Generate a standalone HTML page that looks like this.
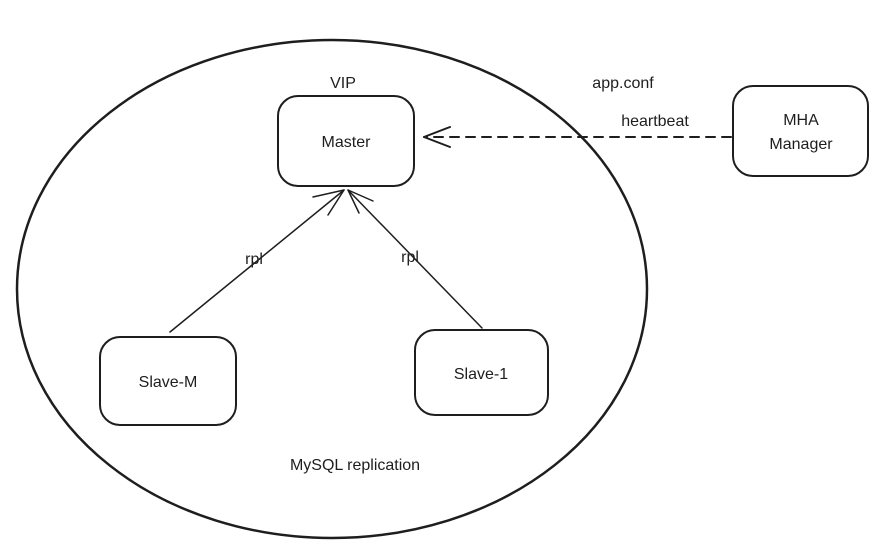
<!DOCTYPE html>
<html><head><meta charset="utf-8"><style>
body{margin:0;background:#fff;}
svg text{font-family:"Liberation Sans",sans-serif;fill:#1e1e1e;font-size:16px;text-anchor:middle;}
</style></head><body>
<svg width="887" height="554" viewBox="0 0 887 554" xmlns="http://www.w3.org/2000/svg">
<g fill="none" stroke="#1e1e1e" stroke-linecap="round" stroke-linejoin="round">
<ellipse cx="332" cy="289" rx="315" ry="249" stroke-width="2.5"/>
<rect x="278" y="96" width="136" height="90" rx="20" stroke-width="2"/>
<rect x="100" y="337" width="136" height="88" rx="20" stroke-width="2"/>
<rect x="415" y="330" width="133" height="85" rx="20" stroke-width="2"/>
<rect x="733" y="86" width="135" height="90" rx="20" stroke-width="2"/>
<line x1="170" y1="332" x2="344" y2="190" stroke-width="1.5"/>
<line x1="482" y1="328" x2="348" y2="190" stroke-width="1.5"/>
<polyline points="313,197 344,190 328,215" stroke-width="1.5"/>
<polyline points="359,213 348,190 373,201" stroke-width="1.5"/>
<line x1="731" y1="137" x2="424" y2="137" stroke-width="2" stroke-dasharray="9,7"/>
<polyline points="450,127 424,137 450,147" stroke-width="2"/>
</g>
<text x="343" y="88">VIP</text>
<text x="346" y="147">Master</text>
<text x="168" y="387">Slave-M</text>
<text x="481" y="379">Slave-1</text>
<text x="801" y="125">MHA</text>
<text x="801" y="149">Manager</text>
<text x="623" y="88">app.conf</text>
<text x="655" y="126">heartbeat</text>
<text x="254" y="264">rpl</text>
<text x="410" y="262">rpl</text>
<text x="355" y="470">MySQL replication</text>
</svg>
</body></html>
